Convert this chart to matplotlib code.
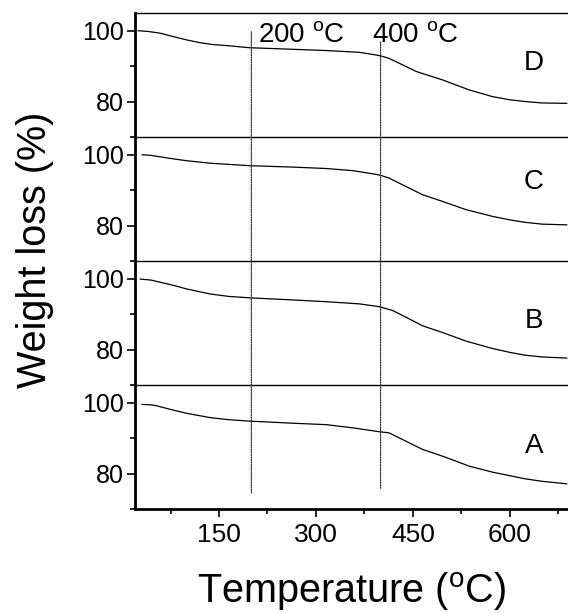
import matplotlib
matplotlib.use('Agg')
import matplotlib.pyplot as plt
from matplotlib.patches import ConnectionPatch
from matplotlib.ticker import MultipleLocator

plt.rcParams['font.family'] = ['Liberation Sans', 'DejaVu Sans']
plt.rcParams['mathtext.fontset'] = 'custom'
plt.rcParams['mathtext.rm'] = 'Liberation Sans'

# sample curves (temperature in C, weight in %)
temp_d = [25, 40, 59, 80, 100, 121, 140, 162, 197, 265, 316, 367, 388, 400, 413, 429, 455, 496, 537, 573, 600, 624, 650, 688]
weight_d = [100, 99.8, 99.3, 98.3, 97.4, 96.6, 96.1, 95.8, 95.2, 94.75, 94.4, 93.9, 93.3, 92.9, 92.2, 90.8, 88.5, 86.1, 83.3, 81.4, 80.5, 80.0, 79.6, 79.5]

temp_c = [31, 45, 59, 80, 100, 136, 197, 265, 316, 357, 388, 400, 413, 434, 465, 496, 532, 573, 600, 624, 650, 688]
weight_c = [100, 99.8, 99.4, 98.8, 98.3, 97.6, 96.9, 96.5, 96.1, 95.5, 94.6, 94.2, 93.4, 91.5, 88.7, 86.8, 84.5, 82.6, 81.6, 80.9, 80.4, 80.2]

temp_b = [28, 45, 59, 80, 100, 136, 165, 197, 265, 316, 367, 398, 419, 445, 465, 496, 532, 573, 600, 624, 650, 688]
weight_b = [99.9, 99.6, 99.0, 98.1, 97.1, 95.7, 95.0, 94.6, 94.0, 93.5, 92.9, 92.1, 91.0, 88.6, 86.7, 84.8, 82.4, 80.3, 79.2, 78.4, 77.9, 77.6]

temp_a = [31, 45, 54, 75, 100, 136, 165, 197, 265, 316, 357, 398, 413, 434, 465, 496, 537, 573, 600, 624, 650, 688]
weight_a = [99.5, 99.4, 99.1, 98.1, 97.0, 95.8, 95.2, 94.8, 94.2, 93.8, 92.9, 91.8, 91.5, 89.6, 86.8, 84.9, 82.1, 80.4, 79.4, 78.5, 77.8, 77.1]

labels = ['D', 'C', 'B', 'A']
label_y = [90.9, 92.2, 88.1, 87.7]
marks = [200, 400]
mark_texts = ['200 $^{\\rm o}$C', '400 $^{\\rm o}$C']

curves = [(temp_d, weight_d), (temp_c, weight_c), (temp_b, weight_b), (temp_a, weight_a)]

fig, axes = plt.subplots(4, 1, sharex=True, figsize=(5.68, 6.13), dpi=100)
fig.subplots_adjust(left=0.2377, right=1.0, bottom=0.1697, top=0.9788, hspace=0)

for i, ax in enumerate(axes):
    t, w = curves[i]
    ax.patch.set_visible(False)
    ax.plot(t, w, color='black', lw=0.9)
    ax.set_xlim(20, 690)
    ax.set_ylim(70, 105)
    ax.yaxis.set_minor_locator(MultipleLocator(10))
    ax.set_yticks([80, 100])
    ax.tick_params(axis='y', which='major', direction='out', length=6, width=1.2, labelsize=18, pad=2)
    ax.tick_params(axis='y', which='minor', direction='out', length=3.5, width=1.2)
    ax.spines['right'].set_visible(False)
    ax.spines['left'].set_linewidth(2)
    if i > 0:
        ax.spines['top'].set_visible(False)
    else:
        ax.spines['top'].set_linewidth(1)
    if i < 3:
        ax.spines['bottom'].set_linewidth(1)
        ax.tick_params(axis='x', which='both', bottom=False, labelbottom=False)
    ax.text(637, label_y[i], labels[i], fontsize=20, ha='center', va='center')

bot = axes[3]
bot.spines['bottom'].set_linewidth(2)
bot.xaxis.set_minor_locator(MultipleLocator(75))
bot.set_xticks([150, 300, 450, 600])
bot.tick_params(axis='x', which='major', direction='out', length=6, width=1.2, labelsize=19, pad=4)
bot.tick_params(axis='x', which='minor', direction='out', length=3.5, width=1.2)
bot.set_xlabel('Temperature ($^{\\rm o}$C)', fontsize=28.5, labelpad=17)

fig.text(0.062, 0.592, 'Weight loss (%)', fontsize=28.5, rotation=90, ha='center', va='center')

# dotted guide lines spanning all panels
tops = [99.7, 96.8]
bottoms = [74.6, 75.8]
for x, y0, y1 in zip(marks, tops, bottoms):
    con = ConnectionPatch(xyA=(x, y0), coordsA=axes[0].transData,
                          xyB=(x, y1), coordsB=axes[3].transData,
                          color='#333333', lw=0.9, linestyle=(0, (1, 1)))
    fig.add_artist(con)

axes[0].text(211, 96.5, mark_texts[0], fontsize=20, ha='left', va='baseline')
axes[0].text(387, 96.5, mark_texts[1], fontsize=20, ha='left', va='baseline')

fig.savefig('out.png', dpi=100)
